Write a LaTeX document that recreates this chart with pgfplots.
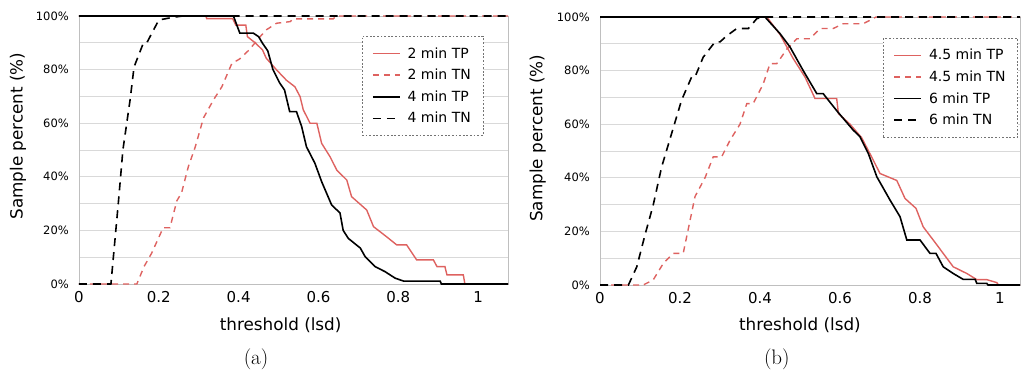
\documentclass[border=0pt]{standalone}
\usepackage{pgfplots}
\pgfplotsset{compat=1.18}
\usepackage{fontspec}
\newfontfamily\dv{DejaVu Sans}
\definecolor{cred}{RGB}{222,98,96}
\newcommand\ytf{\dv\fontsize{11.5}{14}\selectfont}
\newcommand\xtf{\dv\fontsize{15}{18}\selectfont}
\newcommand\lbf{\dv\fontsize{16.8}{19}\selectfont}
\newcommand\lgf{\dv\fontsize{14}{17}\selectfont}
\pgfplotsset{
  common/.style={
    scale only axis, height=268pt,
    ymin=0, ymax=100, xmin=0,
    ytick={0,20,...,100}, yticklabels={0\%,20\%,40\%,60\%,80\%,100\%},
    minor ytick={10,30,...,90},
    xtick={0,0.2,0.4,0.6,0.8,1}, xticklabels={0,0.2,0.4,0.6,0.8,1},
    major tick length=0pt, minor tick length=0pt,
    ymajorgrids, yminorgrids,
    grid style={draw=black!15, line width=0.8pt},
    minor grid style={draw=black!15, line width=0.8pt},
    axis line style={draw=black!25, line width=0.8pt},
    yticklabel style={font=\ytf, inner sep=0pt, xshift=-10pt},
    xticklabel style={font=\xtf, inner sep=0pt, yshift=-7pt},
    every axis x label/.style={font=\lbf, anchor=center},
    every axis y label/.style={font=\lbf, rotate=90, anchor=center},
    clip=false,
    legend cell align=left,
    legend image code/.code={\draw[##1] (0pt,0pt) -- (27pt,0pt);},
    legend style={font=\lgf, draw=black!55, line width=0.6pt, dash pattern=on 1.8pt off 1.8pt,
      inner xsep=10pt, inner ysep=9pt, row sep=5.5pt,
      /tikz/every odd column/.append style={column sep=5pt}},
  },
}
\begin{document}
\begin{tikzpicture}
\useasboundingbox (0,0) rectangle (1021pt,373pt);
\begin{axis}[common, anchor=south west, at={(79pt,89pt)}, width=429pt, xmax=1.075,
  xlabel={threshold (lsd)}, ylabel={Sample percent (\%)},
  xlabel style={at={(rel axis cs:0.47,-0.153)}},
  ylabel style={at={(rel axis cs:-0.142,0.552)}},
  legend style={at={(rel axis cs:0.942,0.925)}, anchor=north east}]
\addplot[solid, line width=1.4pt, cred] coordinates {(0,100) (0.318,100) (0.32,99) (0.385,99) (0.393,96.6) (0.418,96.6) (0.422,92.3) (0.443,89.8) (0.46,87.3) (0.469,84.3) (0.495,79.9) (0.52,76) (0.541,73.6) (0.554,69.9) (0.562,65) (0.579,60) (0.596,60) (0.608,52.5) (0.629,47.5) (0.646,42.5) (0.671,38.8) (0.683,32.6) (0.721,27.6) (0.738,21.4) (0.771,17.6) (0.796,14.6) (0.821,14.6) (0.846,9) (0.888,9) (0.897,6.5) (0.917,6.5) (0.922,3.4) (0.963,3.4) (0.967,0) (1.075,0)};
\addlegendentry{2 min TP}
\addplot[line width=1.4pt, cred, dash pattern=on 6pt off 5pt] coordinates {(0,0) (0.145,0) (0.163,6.5) (0.182,11.5) (0.211,21) (0.228,21) (0.245,31) (0.257,34) (0.274,43.8) (0.291,51) (0.312,62) (0.337,68.7) (0.358,73.6) (0.383,82.3) (0.403,84) (0.426,87.3) (0.454,92.3) (0.469,94.8) (0.495,97.3) (0.529,97.9) (0.537,98.9) (0.637,98.9) (0.645,100) (1.075,100)};
\addlegendentry{2 min TN}
\addplot[solid, line width=1.6pt, black] coordinates {(0,100) (0.387,100) (0.403,93.6) (0.437,93.6) (0.45,92.3) (0.46,89.8) (0.473,87) (0.486,80) (0.503,75) (0.515,72.4) (0.528,64.3) (0.545,64.3) (0.558,58.7) (0.57,51.2) (0.591,45.1) (0.608,38.2) (0.633,29.5) (0.654,26.5) (0.662,20) (0.675,17) (0.705,13.4) (0.717,10.2) (0.742,6.5) (0.767,4.6) (0.792,2.2) (0.813,1.1) (0.905,1.1) (0.908,0) (1.075,0)};
\addlegendentry{4 min TP}
\addplot[line width=1.6pt, black, dash pattern=on 8pt off 6pt] coordinates {(0,0) (0.08,0) (0.099,31) (0.11,50) (0.128,68.7) (0.138,81) (0.161,89.8) (0.17,90) (0.184,94) (0.2,98.5) (0.235,99.5) (0.26,100) (1.075,100)};
\addlegendentry{4 min TN}
\node[font=\fontsize{21}{24}\selectfont] at (rel axis cs:0.4126,-0.28) {(a)};
\end{axis}
\begin{axis}[common, anchor=south west, at={(600pt,88pt)}, width=420pt, xmax=1.05,
  xlabel={threshold (lsd)}, ylabel={Sample percent (\%)},
  xlabel style={at={(rel axis cs:0.476,-0.149)}},
  ylabel style={at={(rel axis cs:-0.148,0.548)}},
  legend style={at={(rel axis cs:0.995,0.922)}, anchor=north east}]
\addplot[solid, line width=1.4pt, cred] coordinates {(0,100) (0.417,100) (0.45,93.5) (0.483,84.5) (0.5125,77.6) (0.5375,69.6) (0.5917,69.6) (0.596,64) (0.625,60) (0.654,55) (0.679,47.8) (0.7,41.6) (0.742,39) (0.7625,32.3) (0.79,28.6) (0.808,21.7) (0.833,16.8) (0.858,11.8) (0.883,6.8) (0.917,4.3) (0.942,2) (0.967,2) (0.992,0.9) (0.996,0) (1.05,0)};
\addlegendentry{4.5 min TP}
\addplot[line width=1.4pt, cred, dash pattern=on 6pt off 5pt] coordinates {(0,0) (0.108,0) (0.133,1.9) (0.158,8) (0.183,11.8) (0.208,11.8) (0.225,24) (0.2375,33) (0.2625,40) (0.283,47.8) (0.304,47.8) (0.325,54) (0.35,60) (0.367,67.7) (0.383,67.7) (0.408,75) (0.425,82.6) (0.442,82.6) (0.467,88) (0.492,91.9) (0.525,91.9) (0.55,95.7) (0.583,95.7) (0.608,97.5) (0.658,97.5) (0.683,99.4) (0.69,100) (1.05,100)};
\addlegendentry{4.5 min TN}
\addplot[solid, line width=1.6pt, black] coordinates {(0,100) (0.4125,100) (0.45,93.8) (0.475,88.8) (0.508,80) (0.542,71.4) (0.558,71.4) (0.592,65) (0.633,57.8) (0.65,55.3) (0.671,49) (0.692,40.4) (0.725,31.7) (0.75,25.5) (0.767,16.8) (0.8,16.8) (0.825,11.8) (0.84,11.8) (0.858,6.8) (0.883,4.3) (0.908,2.1) (0.938,2.1) (0.942,0.6) (0.967,0.6) (0.97,0) (1.05,0)};
\addlegendentry{6 min TP}
\addplot[line width=1.6pt, black, dash pattern=on 8pt off 6pt] coordinates {(0,0) (0.071,0) (0.092,6.8) (0.113,19) (0.133,29.8) (0.154,44) (0.179,56.5) (0.204,69) (0.229,77.6) (0.2375,77.6) (0.258,85) (0.2875,90.7) (0.3,90.7) (0.317,93) (0.342,95.7) (0.371,95.7) (0.392,99.4) (0.408,100) (1.05,100)};
\addlegendentry{6 min TN}
\node[font=\fontsize{21}{24}\selectfont] at (rel axis cs:0.421,-0.276) {(b)};
\end{axis}
\end{tikzpicture}
\end{document}
